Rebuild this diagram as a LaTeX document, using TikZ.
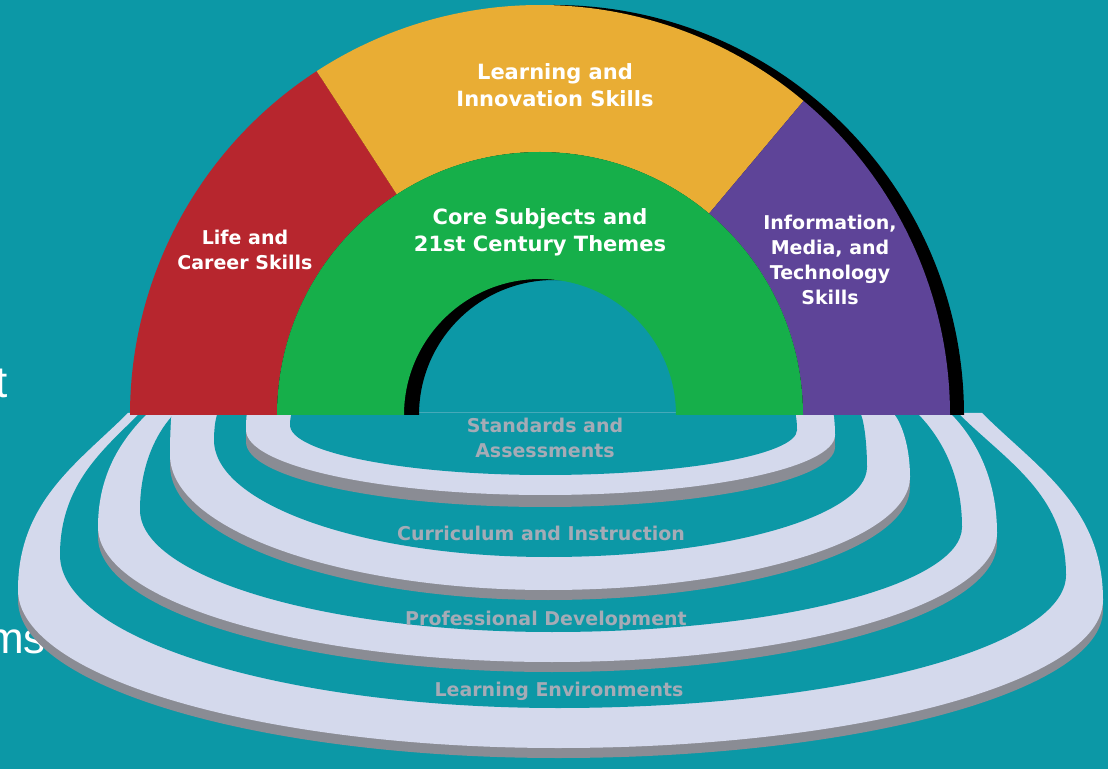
\documentclass[tikz,border=0pt]{standalone}
\usepackage{fontspec}
\newfontfamily\arcfont{DejaVu Sans}
\newfontfamily\slidefont{Liberation Sans}
\usepackage{tikz}
\definecolor{bgteal}{RGB}{12,152,166}
\definecolor{lcred}{RGB}{183,38,46}
\definecolor{liyellow}{RGB}{233,173,52}
\definecolor{impurple}{RGB}{94,68,152}
\definecolor{csgreen}{RGB}{22,175,74}
\definecolor{ringlight}{RGB}{212,217,236}
\definecolor{ringshade}{RGB}{138,140,148}
\definecolor{ringtext}{RGB}{165,171,182}
\tikzset{
arclabel/.style={
  font=\arcfont\bfseries\fontsize{21}{27}\selectfont,
  text=white,
  align=center,
  inner sep=0pt
  },
sidelabel/.style={
  arclabel,
  font=\arcfont\bfseries\fontsize{19}{25}\selectfont
  },
ringlabel/.style={
  sidelabel,
  text=ringtext
  },
slidetext/.style={
  font=\slidefont\fontsize{44}{50}\selectfont,
  text=white,
  inner sep=0pt
  }
}
\newcommand{\ringpath}[8]{%
  (#1,356) .. controls +({-0.45*(#1-#2)},{-0.45*(#1-#2)}) and +(0,{0.5*(356-#3)}) .. (#2,#3)
  .. controls +(0,{-0.55*(#3-#5)}) and +({-0.55*(#4-#2)},0) .. (#4,#5)
  .. controls +({0.55*(#6-#4)},0) and +(0,{-0.55*(#7-#5)}) .. (#6,#7)
  .. controls +(0,{0.5*(356-#7)}) and +({0.45*(#6-#8)},{-0.45*(#6-#8)}) .. (#8,356) -- cycle}

\begin{document}
\begin{tikzpicture}[x=1pt,y=1pt]
\useasboundingbox (0,0) rectangle (1108,769);
\clip (0,0) rectangle (1108,769);
\fill[bgteal] (0,0) rectangle (1108,769);

\node[slidetext,anchor=base east] (fragt) at (8,371) {t};
\node[slidetext,anchor=base east] (fragms) at (46,116) {ms};

% rings
\fill[ringshade,yshift=-10pt] \ringpath{128}{18}{179}{558}{21}{1103}{169}{982};
\fill[ringlight] \ringpath{128}{18}{179}{558}{21}{1103}{169}{982};
\fill[bgteal] \ringpath{140}{60}{214}{558}{61}{1066}{194}{958};

\fill[ringshade,yshift=-10pt] \ringpath{148}{98}{242}{552}{107}{997}{236}{950};
\fill[ringlight] \ringpath{148}{98}{242}{552}{107}{997}{236}{950};
\fill[bgteal] \ringpath{175}{140}{259}{552}{137}{962}{242}{917};

\fill[ringshade,yshift=-10pt] \ringpath{172}{170}{314}{548}{179}{910}{292}{893};
\fill[ringlight] \ringpath{172}{170}{314}{548}{179}{910}{292}{893};
\fill[bgteal] \ringpath{218}{214}{329}{548}{212}{867}{302}{860};

\fill[ringshade,yshift=-12pt] \ringpath{247}{246}{339}{545}{274}{835}{334}{833};
\fill[ringlight] \ringpath{247}{246}{339}{545}{274}{835}{334}{833};
\fill[bgteal] \ringpath{292}{290}{344}{545}{294}{797}{339}{795};

% rainbow
\begin{scope}[shift={(540,354)}]
\fill[black,xshift=14pt] (180:410) arc[start angle=180,end angle=0,radius=410]
  -- (0:135) arc[start angle=0,end angle=180,radius=135] -- cycle;
\fill[lcred] (180:410) arc[start angle=180,end angle=123,radius=410]
  -- (123:263) arc[start angle=123,end angle=180,radius=263] -- cycle;
\fill[liyellow] (123:410) arc[start angle=123,end angle=50,radius=410]
  -- (50:263) arc[start angle=50,end angle=123,radius=263] -- cycle;
\fill[impurple] (50:410) arc[start angle=50,end angle=0,radius=410]
  -- (0:263) arc[start angle=0,end angle=50,radius=263] -- cycle;
\fill[csgreen] (180:263) arc[start angle=180,end angle=0,radius=263]
  -- (0:136) arc[start angle=0,end angle=180,radius=136] -- cycle;
\end{scope}

\node[arclabel] (learn) at (555,684) {Learning and\\Innovation Skills};
\node[arclabel] (core) at (540,537) {Core Subjects and\\21st Century Themes};
\node[sidelabel] (life) at (245,519) {Life and\\Career Skills};
\node[sidelabel] (info) at (830,509) {Information,\\Media, and\\Technology\\Skills};

\node[ringlabel] (stand) at (545,331) {Standards and\\Assessments};
\node[ringlabel] (curr) at (541,236) {Curriculum and Instruction};
\node[ringlabel] (prof) at (546,149) {Professional Development};
\node[ringlabel] (envi) at (559,78) {Learning Environments};
\end{tikzpicture}
\end{document}
